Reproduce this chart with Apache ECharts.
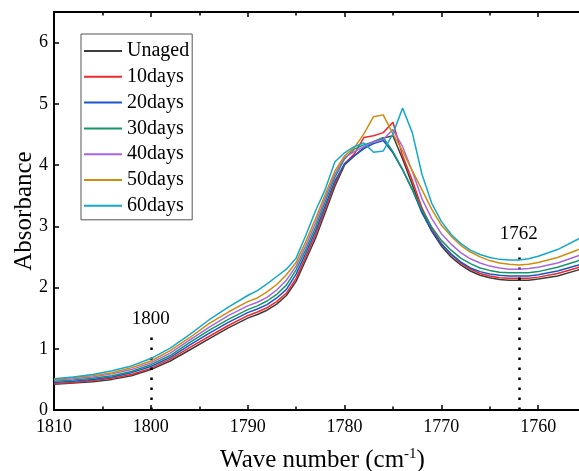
<!DOCTYPE html>
<html>
<head>
<meta charset="utf-8">
<script src="https://cdn.jsdelivr.net/npm/echarts@6/dist/echarts.min.js"></script>
<style>
  html, body { margin: 0; padding: 0; background: #fff; }
  #chart { width: 579px; height: 471px; }
</style>
</head>
<body>
<div id="chart"></div>
<script>
// Carbonyl band of the FTIR spectra (cm-1, absorbance)
const wavenumbers = [1810, 1808, 1806, 1804, 1802, 1800, 1798, 1796, 1794, 1792, 1790,
  1789, 1788, 1787, 1786, 1785, 1784, 1783, 1782, 1781, 1780,
  1779, 1778, 1777, 1776, 1775, 1774, 1773, 1772, 1771, 1770,
  1769, 1768, 1767, 1766, 1765, 1764, 1763, 1762, 1761, 1760,
  1758, 1756, 1755];

const seriesNames = ['Unaged', '10days', '20days', '30days', '40days', '50days', '60days'];

const unaged = [0.42, 0.44, 0.46, 0.50, 0.56, 0.66, 0.80, 0.98, 1.16, 1.34, 1.50,
  1.56, 1.63, 1.73, 1.87, 2.10, 2.45, 2.80, 3.22, 3.65, 4.00,
  4.15, 4.28, 4.38, 4.44, 4.48, 4.10, 3.68, 3.25, 2.92, 2.68,
  2.50, 2.37, 2.27, 2.20, 2.16, 2.13, 2.12, 2.12, 2.12, 2.14,
  2.19, 2.28, 2.34];
const days10 = [0.43, 0.45, 0.48, 0.52, 0.58, 0.68, 0.83, 1.02, 1.20, 1.38, 1.54,
  1.60, 1.67, 1.77, 1.91, 2.15, 2.50, 2.86, 3.28, 3.70, 4.02,
  4.18, 4.45, 4.48, 4.53, 4.70, 4.15, 3.75, 3.30, 2.97, 2.72,
  2.54, 2.40, 2.30, 2.23, 2.19, 2.16, 2.15, 2.15, 2.15, 2.17,
  2.23, 2.32, 2.38];
const days20 = [0.45, 0.47, 0.50, 0.54, 0.61, 0.71, 0.86, 1.06, 1.25, 1.43, 1.59,
  1.65, 1.72, 1.83, 1.97, 2.22, 2.56, 2.92, 3.33, 3.74, 4.02,
  4.15, 4.27, 4.35, 4.40, 4.20, 3.92, 3.60, 3.22, 2.93, 2.71,
  2.55, 2.42, 2.32, 2.26, 2.22, 2.20, 2.19, 2.19, 2.19, 2.21,
  2.27, 2.36, 2.42];
const days30 = [0.47, 0.49, 0.52, 0.56, 0.63, 0.74, 0.89, 1.10, 1.30, 1.48, 1.64,
  1.70, 1.78, 1.89, 2.04, 2.29, 2.62, 2.98, 3.40, 3.80, 4.10,
  4.26, 4.33, 4.38, 4.45, 4.22, 3.93, 3.60, 3.27, 2.99, 2.77,
  2.61, 2.48, 2.39, 2.32, 2.28, 2.25, 2.24, 2.24, 2.24, 2.26,
  2.33, 2.43, 2.50];
const days40 = [0.49, 0.51, 0.54, 0.59, 0.66, 0.77, 0.93, 1.14, 1.35, 1.54, 1.70,
  1.76, 1.84, 1.96, 2.12, 2.35, 2.68, 3.05, 3.46, 3.85, 4.12,
  4.22, 4.30, 4.38, 4.42, 4.58, 4.30, 3.90, 3.45, 3.13, 2.88,
  2.71, 2.57, 2.47, 2.40, 2.35, 2.32, 2.30, 2.30, 2.31, 2.33,
  2.40, 2.51, 2.58];
const days50 = [0.50, 0.53, 0.56, 0.61, 0.69, 0.80, 0.97, 1.18, 1.41, 1.60, 1.77,
  1.83, 1.93, 2.05, 2.21, 2.41, 2.75, 3.12, 3.52, 3.90, 4.15,
  4.28, 4.51, 4.79, 4.82, 4.51, 4.23, 3.91, 3.60, 3.28, 3.02,
  2.84, 2.69, 2.58, 2.50, 2.44, 2.40, 2.38, 2.37, 2.38, 2.41,
  2.49, 2.61, 2.68];
const days60 = [0.51, 0.54, 0.58, 0.64, 0.72, 0.84, 1.01, 1.23, 1.47, 1.68, 1.87,
  1.95, 2.06, 2.18, 2.30, 2.48, 2.85, 3.25, 3.60, 4.05, 4.20,
  4.30, 4.36, 4.21, 4.23, 4.51, 4.93, 4.53, 3.85, 3.38, 3.08,
  2.87, 2.72, 2.61, 2.54, 2.49, 2.46, 2.45, 2.45, 2.47, 2.51,
  2.62, 2.78, 2.87];

const seriesValues = [unaged, days10, days20, days30, days40, days50, days60];
const seriesColors = ['#3c3c3c', '#f0282d', '#1a56c8', '#15966a', '#a865e0', '#d08c0c', '#14a8cc'];

// Marked band positions and the height the dotted guides reach
const markerWaves = [1800, 1762];
const markerTops = [1.30, 2.68];

// Wavenumber axis runs high to low; the frame is cut on the right side
const xTicks = { min: 1750, max: 1810, interval: 10 };
const yTicks = { min: 0, max: 6.5, interval: 1 };

const serif = 'Liberation Serif';

const series = seriesNames.map(function (name, i) {
  const s = {
    name: name,
    type: 'line',
    data: wavenumbers.map(function (w, k) { return [w, seriesValues[i][k]]; }),
    symbol: 'none',
    smooth: false,
    clip: true,
    lineStyle: { width: 1.5, color: seriesColors[i] },
    itemStyle: { color: seriesColors[i] },
    z: 2 + i
  };
  if (i === seriesNames.length - 1) {
    s.markLine = {
      silent: true,
      symbol: ['none', 'none'],
      animation: false,
      lineStyle: { color: '#000', width: 2.5, type: [2.5, 7.5] },
      label: {
        show: true,
        position: 'end',
        distance: 2,
        fontFamily: serif,
        fontSize: 19,
        color: '#000',
        formatter: function (p) { return p.name; }
      },
      data: markerWaves.map(function (w, k) {
        return [{ name: String(w), coord: [w, 0] }, { coord: [w, markerTops[k]] }];
      })
    };
  }
  return s;
});

const plainNumber = function (v) { return String(v); };

const tickCommon = {
  min: xTicks.min, max: xTicks.max, interval: xTicks.interval,
  type: 'value', inverse: true,
  axisLine: { show: true, lineStyle: { color: '#000', width: 2 } },
  axisTick: { show: true, inside: true, length: 5, lineStyle: { color: '#000', width: 1.5 } },
  minorTick: { show: true, splitNumber: 2, length: 3.5, lineStyle: { color: '#000', width: 1.5 } },
  splitLine: { show: false }
};

const chart = echarts.init(document.getElementById('chart'), null, { renderer: 'canvas' });
chart.setOption({
  animation: false,
  backgroundColor: '#fff',
  // 60 cm-1 span at 9.68 px per unit, extending past the right edge
  grid: { left: 54, top: 12, right: -56, bottom: 61, containLabel: false, outerBoundsMode: 'none' },
  legend: {
    left: 81, top: 34, orient: 'vertical',
    data: seriesNames,
    icon: 'rect',
    itemWidth: 38, itemHeight: 2, itemGap: 5.8,
    padding: [7, 3, 4, 3],
    borderColor: '#555', borderWidth: 1,
    textStyle: { fontFamily: serif, fontSize: 20, lineHeight: 20, color: '#000' }
  },
  xAxis: [
    Object.assign({}, tickCommon, {
      position: 'bottom',
      name: '{a|Wave number (cm}{s|-1}{a|)}',
      nameLocation: 'middle',
      nameGap: 37,
      nameMoveOverlap: false,
      nameTextStyle: {
        // title is centred on the visible part of the frame
        padding: [0, 44, 0, 0],
        rich: {
          a: { fontFamily: serif, fontSize: 25, color: '#000' },
          s: { fontFamily: serif, fontSize: 15, color: '#000', verticalAlign: 'top', padding: [0, 0, 12, 0] }
        }
      },
      axisLabel: { show: true, fontFamily: serif, fontSize: 18, color: '#000', margin: 8, formatter: plainNumber }
    }),
    Object.assign({}, tickCommon, {
      position: 'top',
      axisLabel: { show: false }
    })
  ],
  yAxis: {
    type: 'value', min: yTicks.min, max: yTicks.max, interval: yTicks.interval,
    name: 'Absorbance', nameLocation: 'middle', nameGap: 17,
    nameMoveOverlap: false,
    nameTextStyle: { fontFamily: serif, fontSize: 25, color: '#000' },
    axisLine: { show: true, lineStyle: { color: '#000', width: 2 } },
    axisTick: { show: true, inside: true, length: 5, lineStyle: { color: '#000', width: 1.5 } },
    axisLabel: { fontFamily: serif, fontSize: 18, color: '#000', margin: 6, showMaxLabel: false, formatter: plainNumber },
    splitLine: { show: false }
  },
  series: series
});
</script>
</body>
</html>
